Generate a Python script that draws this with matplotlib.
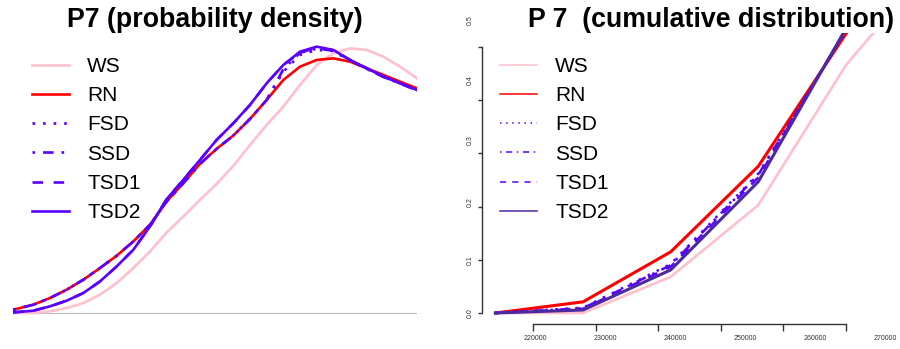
import matplotlib
matplotlib.use("Agg")
import matplotlib.pyplot as plt

plt.rcParams['font.family'] = ['Liberation Sans', 'DejaVu Sans']

# ---- data: probability density (left) ----
x_pdf = [204, 210, 215, 220, 225, 230, 235, 240, 245, 250, 255, 260, 265,
         270, 275, 280, 285, 290, 295, 300, 305, 310, 315, 320, 325]
ws_pdf = [0.000, 0.000, 0.019, 0.056, 0.112, 0.205, 0.336, 0.504, 0.690, 0.903, 1.082, 1.269, 1.448,
          1.649, 1.884, 2.108, 2.313, 2.556, 2.780, 2.910, 2.966, 2.948, 2.873, 2.761, 2.631]
rn_pdf = [0.037, 0.093, 0.168, 0.261, 0.373, 0.504, 0.642, 0.802, 0.989, 1.250, 1.455, 1.672, 1.840,
          1.989, 2.175, 2.388, 2.612, 2.761, 2.836, 2.854, 2.817, 2.743, 2.668, 2.593, 2.519]
fsd_pdf = [0.037, 0.093, 0.168, 0.261, 0.373, 0.504, 0.642, 0.802, 0.989, 1.250, 1.455, 1.672, 1.840,
           1.989, 2.175, 2.388, 2.705, 2.892, 2.948, 2.937, 2.828, 2.735, 2.649, 2.575, 2.507]
ssd_pdf = [0.037, 0.093, 0.168, 0.261, 0.373, 0.504, 0.642, 0.802, 0.989, 1.250, 1.455, 1.672, 1.840,
           1.989, 2.175, 2.388, 2.731, 2.918, 2.963, 2.940, 2.832, 2.739, 2.646, 2.571, 2.496]
tsd1_pdf = [0.007, 0.026, 0.075, 0.138, 0.224, 0.354, 0.522, 0.709, 0.970, 1.276, 1.493, 1.716, 1.940,
            2.127, 2.332, 2.575, 2.780, 2.918, 2.974, 2.944, 2.836, 2.743, 2.649, 2.575, 2.500]
tsd2_pdf = [0.007, 0.026, 0.075, 0.138, 0.224, 0.354, 0.522, 0.709, 0.970, 1.276, 1.493, 1.716, 1.940,
            2.127, 2.332, 2.575, 2.780, 2.929, 2.985, 2.948, 2.836, 2.743, 2.649, 2.575, 2.500]

# ---- data: cumulative distribution (right) ----
x_cdf = [214000, 228000, 242000, 256000, 270000, 284000]
ws_cdf = [0.0, 0.0, 0.068, 0.203, 0.466, 0.66]
rn_cdf = [0.0, 0.021, 0.115, 0.276, 0.525, 0.75]
fsd_cdf = [0.0, 0.010, 0.092, 0.262, 0.530, 0.75]
ssd_cdf = [0.0, 0.009, 0.090, 0.260, 0.532, 0.75]
tsd1_cdf = [0.0, 0.008, 0.087, 0.255, 0.533, 0.75]
tsd2_cdf = [0.0, 0.0056, 0.081, 0.247, 0.535, 0.75]

labels = ["WS", "RN", "FSD", "SSD", "TSD1", "TSD2"]
x_ticks = [220000, 230000, 240000, 250000, 260000, 270000]
y_ticks = [0.0, 0.1, 0.2, 0.3, 0.4, 0.5]

W, H = 900, 349
fig = plt.figure(figsize=(9, 3.49), dpi=100)


def box(x0, y0, x1, y1):
    # pixel box (from top-left) -> figure fraction
    return [x0 / W, 1 - y1 / H, (x1 - x0) / W, (y1 - y0) / H]


blue = "#5a00ff"
styles = [
    dict(color="pink", ls="-"),
    dict(color="red", ls="-"),
    dict(color=blue, ls=(0, (1, 3))),
    dict(color=blue, ls=(0, (1, 3, 4, 3))),
    dict(color=blue, ls=(0, (4, 4))),
    dict(color=blue, ls="-"),
]

leg_kw = dict(frameon=False, fontsize=15, handlelength=1.78, handletextpad=0.86,
              labelspacing=0.49, borderpad=0, borderaxespad=0, loc="upper left",
              bbox_transform=fig.transFigure)

# ---------------- left: density ----------------
ax1 = fig.add_axes(box(13.3, 35, 416.7, 320))
for ys, st, lab in zip([ws_pdf, rn_pdf, fsd_pdf, ssd_pdf, tsd1_pdf, tsd2_pdf], styles, labels):
    ax1.plot(x_pdf, ys, lw=1.9, label=lab, **st)
ax1.axhline(0, color="#bbbbbb", lw=0.8, zorder=0)
ax1.set_xlim(x_pdf[0], x_pdf[-1])
ax1.set_ylim(-21 / 268, 835 / 268)
ax1.axis("off")
ax1.legend(bbox_to_anchor=(32 / W, 1 - 57 / H), **leg_kw)
fig.text(215 / W, 1 - 27 / H, "P7 (probability density)", ha="center", va="baseline",
         fontsize=19.3, fontweight="bold")

# ---------------- right: cumulative ----------------
ax2 = fig.add_axes(box(482, 33, 880, 324))
cdf_styles = [
    dict(color="pink", ls="-", lw=1.9),
    dict(color="red", ls="-", lw=2.2),
    dict(color=blue, ls=(0, (1, 3)), lw=1.8),
    dict(color=blue, ls=(0, (1, 3, 4, 3)), lw=1.8),
    dict(color=blue, ls=(0, (4, 4)), lw=1.8),
    dict(color="#4b2aa0", ls="-", lw=2.2),
]
for ys, st, lab in zip([ws_cdf, rn_cdf, fsd_cdf, ssd_cdf, tsd1_cdf, tsd2_cdf], cdf_styles, labels):
    ax2.plot(x_cdf, ys, label=lab, **st)
ax2.set_xlim(220000 - 51 / 62.6 * 10000, 220000 + 347 / 62.6 * 10000)
ax2.set_ylim((313 - 324) / 532, (313 - 33) / 532)
for s in ["top", "right"]:
    ax2.spines[s].set_visible(False)
ax2.spines["left"].set_bounds(0, 0.5)
ax2.spines["bottom"].set_bounds(220000, 270000)
for s in ["left", "bottom"]:
    ax2.spines[s].set_color("#333333")
    ax2.spines[s].set_linewidth(1.0)
ax2.set_xticks(x_ticks)
ax2.set_yticks(y_ticks)
ax2.tick_params(axis="x", length=5, width=1, color="#333333", labelbottom=False)
ax2.tick_params(axis="y", length=3, width=1, color="#333333", labelleft=False)

# tick labels sit a little off the ticks in the original
x_lab_px = [535, 605, 675, 745, 815, 885]
for v, px in zip(x_ticks, x_lab_px):
    fig.text(px / W, 1 - 339 / H, str(v), ha="center", va="center", fontsize=5,
             color="#333333")
y_lab_px = [313, 260, 202, 140, 80, 20]
for v, py in zip(y_ticks, y_lab_px):
    fig.text(470 / W, 1 - py / H, "%.1f" % v, ha="center", va="center", rotation=90,
             fontsize=5, color="#333333")

leg = ax2.legend(bbox_to_anchor=(500 / W, 1 - 57 / H), **leg_kw)
for ln in leg.get_lines():
    ln.set_linewidth(1.1)
fig.text(711 / W, 1 - 27 / H, "P 7  (cumulative distribution)", ha="center", va="baseline",
         fontsize=19.3, fontweight="bold")

fig.savefig("out.png", dpi=100)
